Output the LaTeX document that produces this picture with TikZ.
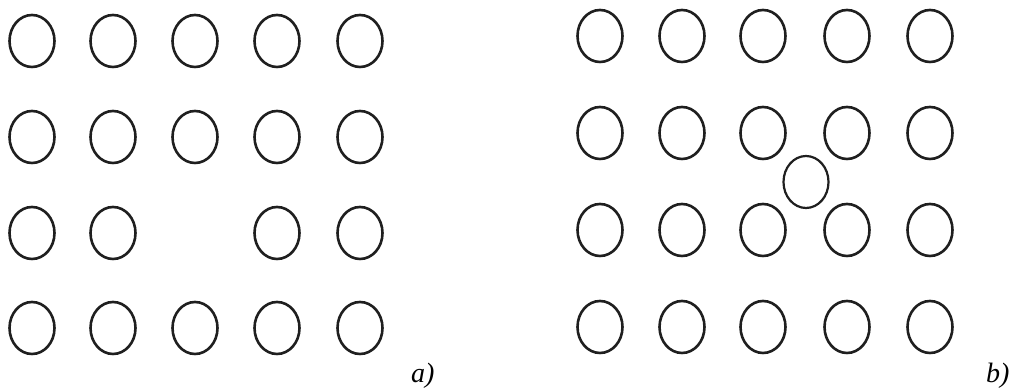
\documentclass[tikz,border=0pt]{standalone}
\usepackage{fontspec}
\setmainfont{Liberation Serif}
\usetikzlibrary{shapes.geometric}
\begin{document}
\begin{tikzpicture}[x=1pt,y=1pt,
  atom/.style={ellipse, draw=black!88, line width=2.6pt, inner sep=0pt,
    minimum width=45pt, minimum height=52pt},
  extra/.style={atom, line width=2.2pt},
  lbl/.style={font=\fontsize{28}{30}\selectfont\itshape, inner sep=0pt, anchor=base west}]
\useasboundingbox (0,0) rectangle (1018,390);
% a) lattice with a vacancy
\foreach \c/\x in {1/32,2/113,3/195,4/277,5/360}{
  \foreach \r/\y in {1/41,2/137,3/233,4/328}{
    \ifnum\c\r=33 \else
      \node[atom] (a-\r-\c) at (\x,390-\y) {};
    \fi
  }
}
% b) lattice with an interstitial
\foreach \c/\x in {1/600,2/682,3/763,4/847,5/930}{
  \foreach \r/\y in {1/36,2/133,3/230,4/327}{
    \node[atom] (b-\r-\c) at (\x,390-\y) {};
  }
}
\node[extra] (int) at (806,390-182) {};
\node[lbl] (la) at (411,7) {a)};
\node[lbl] (lb) at (986,7) {b)};
\end{tikzpicture}
\end{document}
